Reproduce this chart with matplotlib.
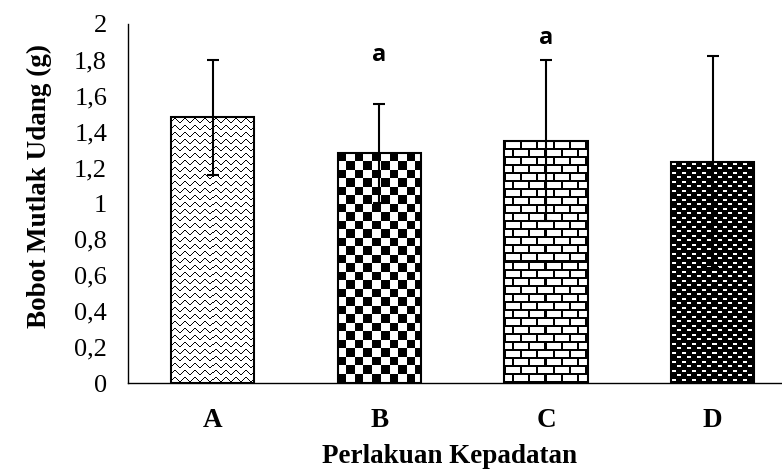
import numpy as np
import matplotlib.pyplot as plt

categories = ['A', 'B', 'C', 'D']
means = [1.48, 1.28, 1.35, 1.23]
errors = [0.32, 0.275, 0.45, 0.59]
letters = ['', 'a', 'a', '']
letter_y = [0, 1.83, 1.92, 0]
yticks = [0, 0.2, 0.4, 0.6, 0.8, 1, 1.2, 1.4, 1.6, 1.8, 2]
ytick_labels = ['0', '0,2', '0,4', '0,6', '0,8', '1', '1,2', '1,4', '1,6', '1,8', '2']


def tile_wave():
	t = np.ones((7, 10))
	rows = [4, 3, 2, 1, 1, 2, 3, 4, 5, 5]
	for x, r in enumerate(rows):
		t[r, x] = 0
	return t


def tile_check():
	t = np.ones((17, 17))
	t[:8, :8] = 0
	t[8:, 8:] = 0
	return t


def tile_brick():
	t = np.ones((16, 16))
	t[0:2, :] = 0
	t[8:10, :] = 0
	t[2:8, 0:2] = 0
	t[10:16, 8:10] = 0
	return t


def tile_dots():
	t = np.zeros((9, 10))
	t[1:3, 1:5] = 1
	t[5:7, 6:10] = 1
	return t


tiles = [tile_wave(), tile_check(), tile_brick(), tile_dots()]

fig = plt.figure(figsize=(7.82, 4.69), dpi=100)
ax = fig.add_axes([128 / 782, 86 / 469, 1 - 128 / 782, (383 - 24) / 469])

x = np.arange(len(categories))
bars = ax.bar(x, means, width=0.5, facecolor='none', edgecolor='black', linewidth=1.5, zorder=2)

# fill each bar with its texture, clipped to the bar outline
for bar, tile in zip(bars, tiles):
	x0, y0 = bar.get_x(), bar.get_y()
	w, h = bar.get_width(), bar.get_height()
	npx = int(round(w * 166.7))
	npy = int(round(h * 179.5))
	reps = (npy // tile.shape[0] + 2, npx // tile.shape[1] + 2)
	img = np.tile(tile, reps)[:npy, :npx]
	im = ax.imshow(img, cmap='gray', vmin=0, vmax=1, extent=(x0, x0 + w, y0, y0 + h),
		origin='upper', interpolation='nearest', aspect='auto', zorder=1)
	im.set_clip_path(bar)

ax.set_xlim(-0.507, 3.416)
ax.set_ylim(0, 2)

ax.errorbar(x, means, yerr=errors, fmt='none', ecolor='black', elinewidth=1.5,
	capsize=4.3, capthick=1.5, zorder=3)

for xi, lab, ly in zip(x, letters, letter_y):
	if lab:
		ax.text(xi, ly, lab, ha='center', va='center', fontsize=17, fontweight='bold',
			family='Open Sans')

ax.set_yticks(yticks)
ax.set_yticklabels(ytick_labels, family='Liberation Serif', fontsize=19)
ax.set_xticks(x)
ax.set_xticklabels(categories, family='Liberation Serif', fontsize=19.5, fontweight='bold')
ax.tick_params(axis='both', length=0)
ax.tick_params(axis='y', pad=15)
ax.tick_params(axis='x', pad=18)

ax.spines['top'].set_visible(False)
ax.spines['right'].set_visible(False)
ax.spines['left'].set_linewidth(1.0)
ax.spines['bottom'].set_linewidth(1.0)

ax.set_xlabel('Perlakuan Kepadatan', family='Liberation Serif', fontsize=19.5, fontweight='bold', labelpad=8)
ax.set_ylabel('Bobot Mutlak Udang (g)', family='Liberation Serif', fontsize=19.5, fontweight='bold', labelpad=16)
ax.xaxis.label.set_x(0.492)
ax.yaxis.label.set_y(0.55)

fig.savefig('out.png', dpi=100)
